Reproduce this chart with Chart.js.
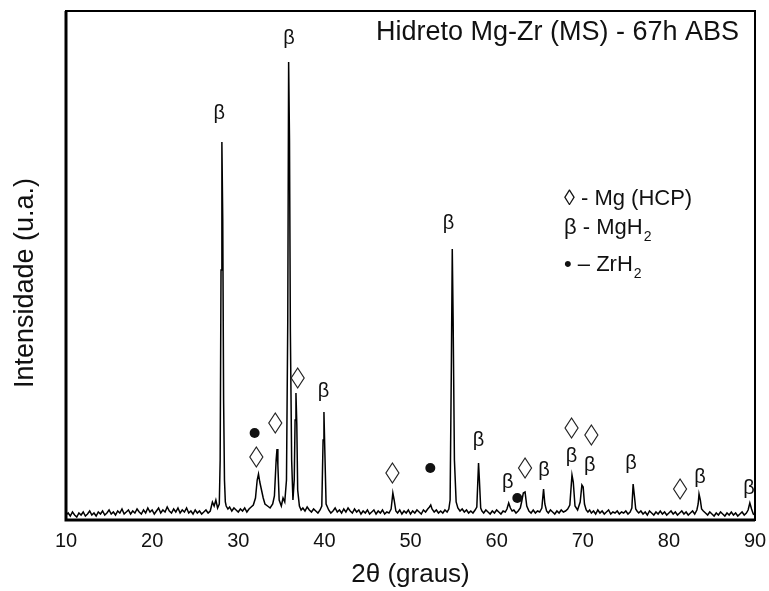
<!DOCTYPE html>
<html>
<head>
<meta charset="utf-8">
<script src="https://cdn.jsdelivr.net/npm/chart.js@4/dist/chart.umd.min.js"></script>
<style>
  body { margin: 0; background: #fff; }
  #wrap { width: 769px; height: 591px; }
</style>
</head>
<body>
<div id="wrap"><canvas id="xrd"></canvas></div>
<script>
// XRD scan: [2theta, intensity (u.a.)]
var scan = [
  [10,5],[10.25,7],[10.5,4],[10.75,8],[11,5],[11.25,3],[11.5,7],[11.75,5],[12,8],[12.25,4],
  [12.5,6],[12.75,9],[13,5],[13.25,7],[13.5,4],[13.75,8],[14,6],[14.25,9],[14.5,5],[14.75,7],
  [15,10],[15.25,6],[15.5,8],[15.75,5],[16,9],[16.25,7],[16.5,11],[16.75,6],[17,8],[17.25,10],
  [17.5,6],[17.75,9],[18,7],[18.25,11],[18.5,8],[18.75,6],[19,10],[19.25,7],[19.5,12],[19.75,8],
  [20,10],[20.25,6],[20.5,9],[20.75,12],[21,7],[21.25,10],[21.5,8],[21.75,13],[22,9],[22.25,7],
  [22.5,11],[22.75,8],[23,12],[23.25,7],[23.5,10],[23.75,8],[24,12],[24.25,7],[24.5,9],[24.75,6],
  [25,10],[25.25,7],[25.5,9],[25.75,6],[26,8],[26.25,10],[26.5,7],[26.75,9],
  [27,18],[27.2,14],[27.4,20],[27.6,12],[27.8,16],
  [27.9,60],[28.0,250],[28.1,378],[28.2,300],[28.3,120],[28.4,40],[28.5,18],
  [28.6,14],[28.8,11],[29,13],[29.25,9],[29.5,12],[29.75,10],[30,8],[30.25,11],[30.5,9],[30.75,12],
  [31,8],[31.25,11],[31.5,13],[31.75,15],
  [32.0,22],[32.2,40],[32.35,46],[32.5,38],[32.7,30],[32.9,22],[33.1,16],[33.4,14],[33.7,12],[34,16],
  [34.2,24],[34.4,60],[34.5,71],[34.6,55],[34.75,20],[35,14],[35.2,22],[35.4,18],[35.6,40],
  [35.75,200],[35.85,458],[35.95,380],[36.05,190],[36.2,60],[36.35,20],
  [36.5,40],[36.6,100],[36.7,127],[36.8,95],[36.9,30],
  [37.1,14],[37.3,10],[37.5,12],[37.75,9],[38,13],[38.25,10],[38.5,8],[38.75,11],[39,9],[39.25,7],
  [39.5,10],[39.7,14],[39.85,80],[39.95,108],[40.05,70],[40.2,16],
  [40.5,10],[40.75,7],[41,9],[41.25,12],[41.5,8],[41.75,10],[42,7],[42.25,11],[42.5,8],[42.75,12],
  [43,9],[43.25,7],[43.5,11],[43.75,8],[44,10],[44.25,6],[44.5,9],[44.75,7],[45,10],[45.25,6],
  [45.5,8],[45.75,10],[46,6],[46.25,9],[46.5,7],[46.75,10],[47,6],[47.25,8],[47.5,7],[47.75,11],
  [47.95,27],[48.1,20],[48.3,9],
  [48.5,7],[48.75,10],[49,6],[49.25,9],[49.5,7],[49.75,10],[50,6],[50.25,9],[50.5,7],[50.75,10],
  [51,8],[51.25,6],[51.5,10],[51.75,8],[52,11],[52.2,13],[52.35,15],[52.5,11],[52.75,8],[53,10],
  [53.25,7],[53.5,9],[53.75,7],[54,10],[54.25,8],[54.45,11],
  [54.6,20],[54.75,160],[54.85,271],[54.95,200],[55.1,60],[55.3,18],
  [55.5,12],[55.75,9],[56,11],[56.25,8],[56.5,10],[56.75,7],[57,9],[57.25,7],[57.5,10],[57.7,13],
  [57.9,57],[58.0,40],[58.15,12],
  [58.3,9],[58.5,7],[58.75,10],[59,8],[59.25,6],[59.5,9],[59.75,7],[60,10],[60.25,8],[60.5,6],
  [60.75,9],[61,8],[61.2,11],[61.4,17],[61.6,12],[61.8,9],[62,10],[62.25,7],[62.5,9],[62.75,12],
  [62.9,18],[63.1,27],[63.3,28],[63.5,14],[63.75,9],[64,7],[64.25,10],[64.5,7],[64.75,9],[65,8],
  [65.25,12],[65.45,31],[65.6,16],[65.8,9],[66,7],[66.25,10],[66.5,8],[66.75,6],[67,9],[67.25,7],
  [67.5,10],[67.75,8],[68,9],[68.25,11],[68.5,15],
  [68.75,45],[68.9,38],[69.1,14],[69.4,10],[69.7,18],[69.9,35],[70.05,33],[70.2,16],
  [70.4,10],[70.6,8],[70.8,10],[71,7],[71.25,9],[71.5,6],[71.75,10],[72,7],[72.25,9],[72.5,6],
  [72.75,8],[73,10],[73.25,6],[73.5,8],[73.75,7],[74,9],[74.25,6],[74.5,8],[74.75,7],[75,9],
  [75.25,6],[75.5,8],[75.7,12],[75.85,36],[76.0,24],[76.15,11],
  [76.3,9],[76.5,7],[76.75,9],[77,6],[77.25,8],[77.5,5],[77.75,9],[78,7],[78.25,5],[78.5,8],
  [78.75,6],[79,9],[79.25,6],[79.5,8],[79.75,5],[80,7],[80.25,9],[80.5,6],[80.75,8],[81,5],
  [81.25,7],[81.5,9],[81.75,6],[82,8],[82.25,5],[82.5,7],[82.75,9],[83,6],[83.25,10],
  [83.4,16],[83.5,26],[83.65,20],[83.8,11],
  [84,9],[84.25,7],[84.5,5],[84.75,8],[85,6],[85.25,4],[85.5,7],[85.75,5],[86,8],[86.25,6],
  [86.5,4],[86.75,7],[87,5],[87.25,8],[87.5,5],[87.75,7],[88,4],[88.25,6],[88.5,8],[88.75,5],
  [89,7],[89.2,10],[89.4,17],[89.6,11],[89.8,6],[90,5]
];

// phase markers [2theta, height]
var betaMarks = [[27.8,407],[35.9,482],[39.9,129],[54.4,297],[57.9,80],[61.3,38],[65.5,50],[68.7,64],[70.8,55],[75.6,57],[83.6,43],[89.3,32]];
var mgMarks = [[36.9,142],[34.3,97],[32.1,63],[47.9,47],[63.3,52],[68.7,92],[71.0,85],[81.3,31]];
var zrMarks = [[31.9,87],[52.3,52],[62.4,22]];

var xTicks = [10, 20, 30, 40, 50, 60, 70, 80, 90];

var FONT = "'Liberation Sans', Arial, sans-serif";

var markPlugin = {
  id: 'marks',
  afterDraw: function(chart) {
    var c = chart.ctx, a = chart.chartArea;
    var sx = chart.scales.x, sy = chart.scales.y;
    c.save();

    // frame
    c.strokeStyle = '#000';
    c.lineWidth = 2;
    c.strokeRect(a.left, a.top, a.right - a.left, a.bottom - a.top);
    c.lineWidth = 3;
    c.beginPath();
    c.moveTo(a.left, a.top); c.lineTo(a.left, a.bottom); c.lineTo(a.right, a.bottom);
    c.stroke();

    c.fillStyle = '#111';
    c.textAlign = 'center';
    c.textBaseline = 'middle';

    c.font = '20px ' + FONT;
    betaMarks.forEach(function(m) {
      c.fillText('\u03B2', sx.getPixelForValue(m[0]), sy.getPixelForValue(m[1]));
    });

    c.lineWidth = 1.2;
    c.strokeStyle = '#222';
    mgMarks.forEach(function(m) {
      var px = sx.getPixelForValue(m[0]), py = sy.getPixelForValue(m[1]);
      c.beginPath();
      c.moveTo(px, py - 10); c.lineTo(px + 6.5, py); c.lineTo(px, py + 10); c.lineTo(px - 6.5, py);
      c.closePath();
      c.stroke();
    });

    zrMarks.forEach(function(m) {
      c.beginPath();
      c.arc(sx.getPixelForValue(m[0]), sy.getPixelForValue(m[1]), 5, 0, Math.PI * 2);
      c.fill();
    });

    // title inside the frame
    c.textAlign = 'right';
    c.font = '27px ' + FONT;
    c.fillText('Hidreto Mg-Zr (MS) - 67h ABS', 739, 33);

    // legend
    c.textAlign = 'left';
    c.font = '22px ' + FONT;
    c.fillText('\u25CA - Mg (HCP)', 564, 199);
    c.fillText('\u03B2 - MgH', 564, 228);
    var w1 = c.measureText('\u03B2 - MgH').width;
    c.fillText('\u2022 \u2013 ZrH', 564, 265);
    var w2 = c.measureText('\u2022 \u2013 ZrH').width;
    c.font = '14px ' + FONT;
    c.fillText('2', 564 + w1 + 1, 237);
    c.fillText('2', 564 + w2 + 1, 274);

    // y axis title
    c.font = '27px ' + FONT;
    c.textAlign = 'center';
    c.translate(26, 283);
    c.rotate(-Math.PI / 2);
    c.fillText('Intensidade (u.a.)', 0, 0);
    c.restore();
  }
};

var ctx = document.getElementById('xrd').getContext('2d');
var xrdChart = new Chart(ctx, {
  type: 'line',
  data: {
    datasets: [{
      label: 'Hidreto Mg-Zr',
      data: scan.map(function(p) { return { x: p[0], y: p[1] }; }),
      borderColor: '#000',
      borderWidth: 1.5,
      pointRadius: 0,
      tension: 0,
      fill: false
    }]
  },
  options: {
    responsive: true,
    maintainAspectRatio: false,
    animation: false,
    layout: { padding: { left: 66, right: 14, top: 11, bottom: 0 } },
    plugins: { legend: { display: false }, tooltip: { enabled: false } },
    scales: {
      x: {
        type: 'linear',
        min: 10, max: 90,
        afterBuildTicks: function(axis) { axis.ticks = xTicks.map(function(v) { return { value: v }; }); },
        afterFit: function(axis) { axis.paddingRight = 0; axis.paddingLeft = 0; },
        grid: { display: false, drawTicks: false },
        border: { display: false },
        ticks: { color: '#111', font: { family: FONT, size: 20, lineHeight: 1 }, padding: 11, maxRotation: 0 },
        title: { display: true, text: '2\u03B8 (graus)', color: '#111', font: { family: FONT, size: 26, lineHeight: 1 }, padding: { top: 0, bottom: 3 } }
      },
      y: {
        display: false,
        min: 0, max: 509
      }
    }
  },
  plugins: [markPlugin]
});
</script>
</body>
</html>
